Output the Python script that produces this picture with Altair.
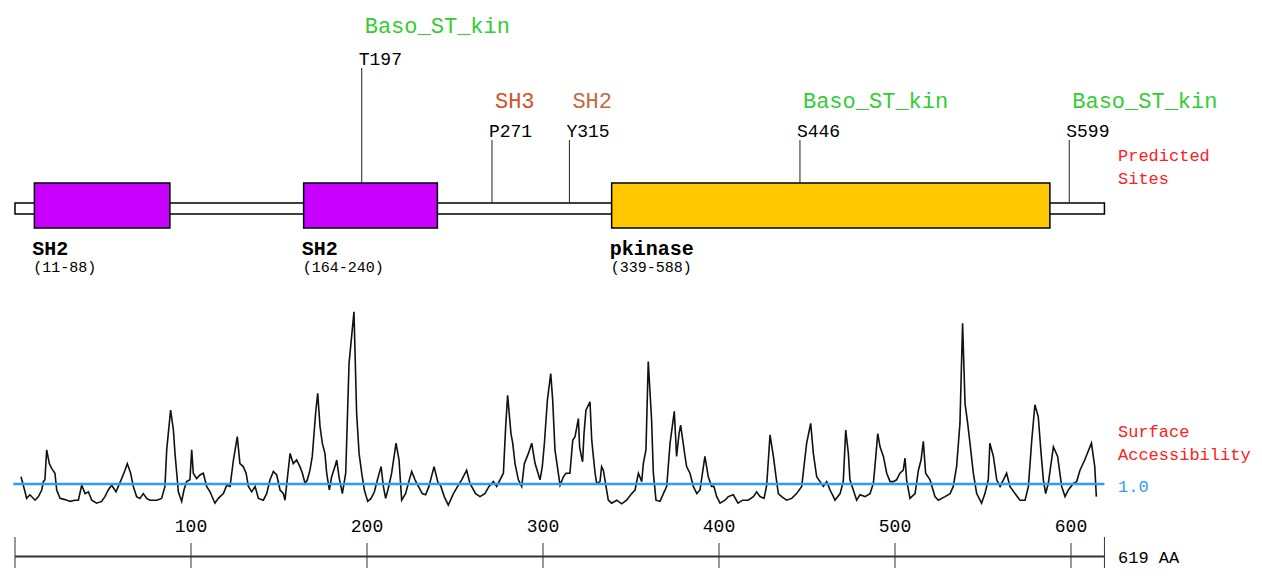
import altair as alt
import pandas as pd

# ---------------- data ----------------
protein_length = 619

domain_names = ["SH2", "SH2", "pkinase"]
domain_start = [11, 164, 339]
domain_end = [88, 240, 588]

site_labels = ["T197", "P271", "Y315", "S446", "S599"]
site_pos = [197, 271, 315, 446, 599]
site_groups = ["Baso_ST_kin", "SH3", "SH2", "Baso_ST_kin", "Baso_ST_kin"]

ruler_ticks = [100, 200, 300, 400, 500, 600]
threshold = 1.0

profile_pos = [
    3.4, 5.7, 6.6, 8.5, 11.4, 13.3, 15.2, 16.1, 17.0, 18.0, 19.5, 20.8, 22.7, 23.7, 25.6,
    28.4, 31.3, 34.1, 36.0, 37.9, 39.8, 41.7, 43.6, 46.4, 49.2, 51.1, 53.0, 54.9, 57.4, 58.7,
    60.6, 62.5, 63.8, 65.7, 67.2, 69.1, 71.0, 72.9, 74.8, 76.7, 80.5, 83.3, 85.2, 86.2, 88.4,
    90.0, 90.9, 91.9, 92.8, 94.7, 96.0, 97.5, 99.4, 100.4, 101.3, 103.2, 105.1, 107.0, 108.9, 110.8,
    113.6, 115.5, 118.4, 120.3, 122.2, 124.1, 126.3, 127.8, 129.7, 131.3, 132.6, 134.5, 136.4, 138.3, 141.1,
    143.0, 144.9, 146.8, 148.7, 150.6, 152.5,
    153.4, 156.3, 158.1, 160.0, 161.9, 163.3, 164.8, 166.1, 167.6, 168.9, 170.8, 172.0, 173.3, 174.6, 176.1,
    177.1, 178.6, 179.9, 181.8, 182.8, 184.1, 186.0, 187.9, 189.8, 192.6, 194.1, 195.5, 197.0, 198.5, 200.4,
    202.3, 204.2, 206.1, 208.0, 209.3, 210.6, 212.1, 214.0, 216.5, 218.2, 219.7, 221.9, 223.5, 225.4, 227.3,
    229.2, 231.4, 233.3, 235.2, 238.1, 240.2, 242.0, 243.9, 246.2, 249.1, 251.5, 253.8, 256.6, 258.5, 261.7,
    264.2, 267.0, 269.3, 271.8, 273.7, 277.5, 278.8, 279.9, 281.8, 282.8, 284.1, 286.0, 287.9, 289.4, 291.7,
    293.6, 295.5, 298.3, 299.6, 300.8, 302.5, 304.4, 305.5, 306.8, 308.7,
    309.7, 311.6, 313.1, 315.3, 316.9, 318.2, 320.1, 320.8, 321.8, 322.5, 323.3, 324.4, 326.7, 327.7, 328.6,
    329.6, 330.5, 332.4, 333.3, 334.3, 335.8, 337.1, 339.0, 341.9, 344.7, 347.5, 350.4, 352.3, 354.2, 356.1,
    357.0, 358.5, 359.8, 361.7, 362.7, 364.2, 366.5, 368.4, 370.3, 372.2, 374.6, 375.9, 377.3, 378.2, 379.4,
    380.7, 381.6, 383.5, 385.4, 387.4, 389.2, 392.0, 393.9, 395.8, 397.1, 398.7, 400.6, 403.4, 405.3, 408.1,
    410.8, 413.4, 416.6, 419.5, 421.4, 423.3, 425.6, 427.1, 429.0, 430.9, 432.4, 433.7, 435.6, 438.4, 441.3,
    444.1, 447.0, 449.8, 452.1, 453.6, 455.5, 457.4, 459.3, 461.2, 463.1, 465.0,
    465.9, 468.8, 470.6, 472.0, 473.5, 474.4, 476.3, 478.2, 480.1, 483.0, 485.8, 487.7, 488.6, 490.2, 491.5,
    493.4, 495.3, 497.2, 499.1, 500.9, 502.8, 504.7, 505.7, 506.6, 508.5, 511.4, 513.3, 514.8, 516.1, 517.4,
    519.9, 522.7, 524.6, 528.4, 531.3, 533.1, 535.0, 536.9, 538.4, 539.8, 541.3, 542.6, 544.5, 546.4, 549.2,
    551.1, 553.0, 553.9, 555.9, 557.8, 559.7, 561.6, 563.4, 565.3, 568.2, 571.0, 573.9, 575.8, 577.7, 579.5,
    581.4, 583.0, 584.3, 585.6, 587.1, 590.0, 592.4, 594.7, 596.6, 598.5, 601.3, 603.2, 605.1, 607.8, 611.6,
    613.5, 614.4,
]
profile_val = [
    1.12, 0.87, 0.76, 0.82, 0.73, 0.79, 0.90, 1.04, 1.07, 1.57, 1.34, 1.26, 1.18, 0.90, 0.76,
    0.74, 0.71, 0.73, 0.73, 0.98, 0.84, 0.87, 0.73, 0.68, 0.71, 0.79, 0.90, 0.98, 0.87, 0.96,
    1.09, 1.23, 1.34, 1.18, 0.96, 0.79, 0.76, 0.84, 0.76, 0.73, 0.73, 0.76, 0.96, 1.57, 2.23,
    1.90, 1.51, 1.18, 0.87, 0.71, 0.90, 1.04, 1.07, 1.57, 1.18, 1.09, 1.15, 1.18, 0.96, 0.87,
    0.68, 0.76, 0.84, 0.98, 0.96, 1.40, 1.79, 1.34, 1.29, 1.18, 0.96, 0.87, 0.96, 0.76, 0.73,
    0.84, 1.07, 1.21, 1.15, 0.90, 0.84,
    0.73, 1.51, 1.34, 1.40, 1.29, 1.18, 1.01, 1.07, 1.23, 1.46, 2.18, 2.51, 1.96, 1.68, 1.51,
    1.18, 0.90, 1.12, 1.29, 1.40, 1.12, 0.84, 1.18, 3.01, 3.87, 2.18, 1.51, 1.18, 0.90, 0.71,
    0.76, 0.87, 1.09, 1.29, 0.96, 0.76, 0.93, 1.18, 1.68, 1.40, 0.73, 0.84, 1.01, 1.21, 1.07,
    0.96, 0.84, 0.82, 0.96, 1.29, 1.04, 0.96, 0.79, 0.65, 0.84, 0.96, 1.07, 1.23, 1.01, 0.84,
    0.79, 0.84, 0.96, 1.04, 0.96, 1.18, 1.96, 2.48, 1.84, 1.68, 1.34, 1.07, 0.96, 1.34, 1.51,
    1.68, 1.34, 1.07, 1.29, 1.68, 2.40, 2.84, 2.40, 1.57, 1.18,
    0.98, 1.12, 1.18, 1.18, 1.73, 1.79, 2.09, 1.62, 1.46, 1.37, 1.84, 2.23, 2.37, 1.73, 1.46,
    1.18, 1.01, 1.04, 1.29, 1.23, 0.96, 0.73, 0.68, 0.73, 0.67, 0.73, 0.84, 0.90, 1.18, 1.04,
    1.34, 1.57, 3.04, 2.07, 1.18, 0.73, 0.71, 0.84, 0.96, 1.68, 2.21, 1.46, 1.84, 1.98, 1.73,
    1.46, 1.29, 1.18, 0.96, 0.84, 0.90, 1.46, 1.12, 0.96, 0.96, 0.79, 0.68, 0.73, 0.79, 0.82,
    0.68, 0.73, 0.73, 0.79, 0.87, 0.79, 0.76, 0.98, 1.82, 1.46, 1.12, 0.84, 0.79, 0.73, 0.76,
    0.84, 0.96, 1.68, 2.01, 1.51, 1.12, 1.04, 0.96, 1.04, 0.90, 0.79,
    0.73, 0.84, 1.04, 1.90, 1.51, 1.07, 0.90, 0.73, 0.82, 0.79, 0.84, 1.01, 1.29, 1.84, 1.62,
    1.46, 1.18, 1.04, 1.04, 1.07, 1.18, 1.23, 1.43, 1.07, 0.76, 0.84, 1.23, 1.40, 1.71, 1.18,
    1.07, 0.79, 0.73, 0.79, 0.84, 0.96, 1.29, 2.01, 3.68, 2.34, 2.01, 1.68, 1.18, 0.84, 0.68,
    0.84, 1.07, 1.68, 1.46, 1.07, 0.96, 1.07, 1.18, 0.96, 0.84, 0.73, 0.73, 0.96, 1.73, 2.32,
    2.12, 1.51, 1.07, 0.84, 1.01, 1.62, 1.46, 0.96, 0.79, 0.90, 1.01, 1.04, 1.23, 1.40, 1.68,
    1.29, 0.79,
]

# ---------------- layout / style ----------------
W, H = 1244, 560
PX_PER_RES = 1.76
X0 = -7 / PX_PER_RES
X1 = X0 + W / PX_PER_RES
xs = alt.Scale(domain=[X0, X1], nice=False, zero=False)
pix = alt.Scale(domain=[H, 0], nice=False, zero=False)          # plot pixels, top = 0
VMAX = 1 + 476 / 60
prof = alt.Scale(domain=[VMAX - H / 60, VMAX], nice=False, zero=False)

MONO = "Liberation Mono"
domain_colors = {"SH2": "#c800ff", "pkinase": "#ffc800"}
group_colors = {"Baso_ST_kin": "#33cc33", "SH3": "#d4502a", "SH2": "#c46a3c"}
high_tier = {"T197"}


def X(f):
    return alt.X(f, scale=xs, axis=None)


def Yp(f):
    return alt.Y(f, scale=pix, axis=None)


# backbone
bb = pd.DataFrame({"s": [0], "e": [protein_length], "y1": [195], "y2": [206]})
backbone = alt.Chart(bb).mark_rect(fill="white", stroke="black", strokeWidth=1.5).encode(
    x=X("s:Q"), x2="e:Q", y=Yp("y1:Q"), y2="y2:Q")

# domains
dom = pd.DataFrame({"name": domain_names, "s": domain_start, "e": domain_end})
dom["col"] = dom["name"].map(domain_colors)
dom["rng"] = ["(%d-%d)" % (a, b) for a, b in zip(domain_start, domain_end)]
dom["y1"] = 175
dom["y2"] = 220
dom["yn"] = 247
dom["yr"] = 264
domains = alt.Chart(dom).mark_rect(stroke="black", strokeWidth=1.5).encode(
    x=X("s:Q"), x2="e:Q", y=Yp("y1:Q"), y2="y2:Q", fill=alt.Fill("col:N", scale=None))
dom_name = alt.Chart(dom).mark_text(align="left", baseline="alphabetic", font=MONO,
                                    fontSize=20, fontWeight="bold", dx=-2, color="black").encode(
    x=X("s:Q"), y=Yp("yn:Q"), text="name:N")
dom_rng = alt.Chart(dom).mark_text(align="left", baseline="alphabetic", font=MONO,
                                   fontSize=15, dx=-1, color="black").encode(
    x=X("s:Q"), y=Yp("yr:Q"), text="rng:N")

# sites
st = pd.DataFrame({"label": site_labels, "pos": site_pos, "group": site_groups})
in_domain = [any(a <= p <= b for a, b in zip(domain_start, domain_end)) for p in site_pos]
st["bot"] = [175 if d else 195 for d in in_domain]
st["top"] = [60 if l in high_tier else 132 for l in site_labels]
st["ylab"] = [57 if l in high_tier else 129 for l in site_labels]
st["ygrp"] = [25 if l in high_tier else 100 for l in site_labels]
st["gcol"] = st["group"].map(group_colors)
site_rules = alt.Chart(st).mark_rule(color="#222", strokeWidth=1).encode(
    x=X("pos:Q"), y=Yp("top:Q"), y2="bot:Q")
site_text = alt.Chart(st).mark_text(align="left", baseline="alphabetic", font=MONO,
                                    fontSize=18, dx=-3, color="black").encode(
    x=X("pos:Q"), y=Yp("ylab:Q"), text="label:N")
group_text = alt.Chart(st).mark_text(align="left", baseline="alphabetic", font=MONO,
                                     fontSize=22, dx=3).encode(
    x=X("pos:Q"), y=Yp("ygrp:Q"), text="group:N", color=alt.Color("gcol:N", scale=None))

# accessibility profile
pf = pd.DataFrame({"pos": profile_pos, "val": profile_val})
profile = alt.Chart(pf).mark_line(color="#111", strokeWidth=1.6).encode(
    x=X("pos:Q"), y=alt.Y("val:Q", scale=prof, axis=None))
th = pd.DataFrame({"s": [-1], "e": [protein_length], "v": [threshold]})
thr = alt.Chart(th).mark_rule(color="#3399ff", strokeWidth=2.5).encode(
    x=X("s:Q"), x2="e:Q", y=alt.Y("v:Q", scale=prof, axis=None))

# ruler
rl = pd.DataFrame({"s": [0], "e": [protein_length]})
ruler = alt.Chart(rl).mark_rule(color="#333", strokeWidth=2).encode(
    x=X("s:Q"), x2="e:Q", y=alt.value(548.5))
ends = pd.DataFrame({"t": [0, protein_length]})
end_ticks = alt.Chart(ends).mark_rule(color="#333", strokeWidth=1).encode(
    x=X("t:Q"), y=alt.value(529), y2=alt.value(569))
tk = pd.DataFrame({"t": ruler_ticks})
ticks = alt.Chart(tk).mark_rule(color="#333", strokeWidth=1).encode(
    x=X("t:Q"), y=alt.value(535), y2=alt.value(562))
tick_lab = alt.Chart(tk).mark_text(align="center", baseline="alphabetic", font=MONO,
                                   fontSize=18, color="black").encode(
    x=X("t:Q"), y=alt.value(524), text="t:Q")

# right-hand labels
rt = pd.DataFrame({
    "text": ["Predicted", "Sites", "Surface", "Accessibility", "%.1f" % threshold],
    "y": [153, 176, 429, 452, 484],
    "col": ["#ff2020", "#ff2020", "#ff2020", "#ff2020", "#3399ff"],
})
right = alt.Chart(rt).mark_text(align="left", baseline="alphabetic", font=MONO,
                                fontSize=17).encode(
    x=alt.value(1110), y=Yp("y:Q"), text="text:N", color=alt.Color("col:N", scale=None))
len_df = pd.DataFrame({"text": ["%d AA" % protein_length]})
len_lab = alt.Chart(len_df).mark_text(align="left", baseline="middle", font=MONO,
                                      fontSize=17, color="black").encode(
    x=alt.value(1110), y=alt.value(550), text="text:N")

chart = alt.layer(
    backbone, domains, site_rules, site_text, group_text, dom_name, dom_rng,
    profile, thr, ruler, end_ticks, ticks, tick_lab, right, len_lab,
).resolve_scale(y="independent").properties(
    width=W, height=H, padding=0, autosize=alt.AutoSizeParams(type="none"),
    background="white",
).configure_view(stroke=None)

chart.save("out.html", embed_options={"renderer": "svg", "actions": False})
